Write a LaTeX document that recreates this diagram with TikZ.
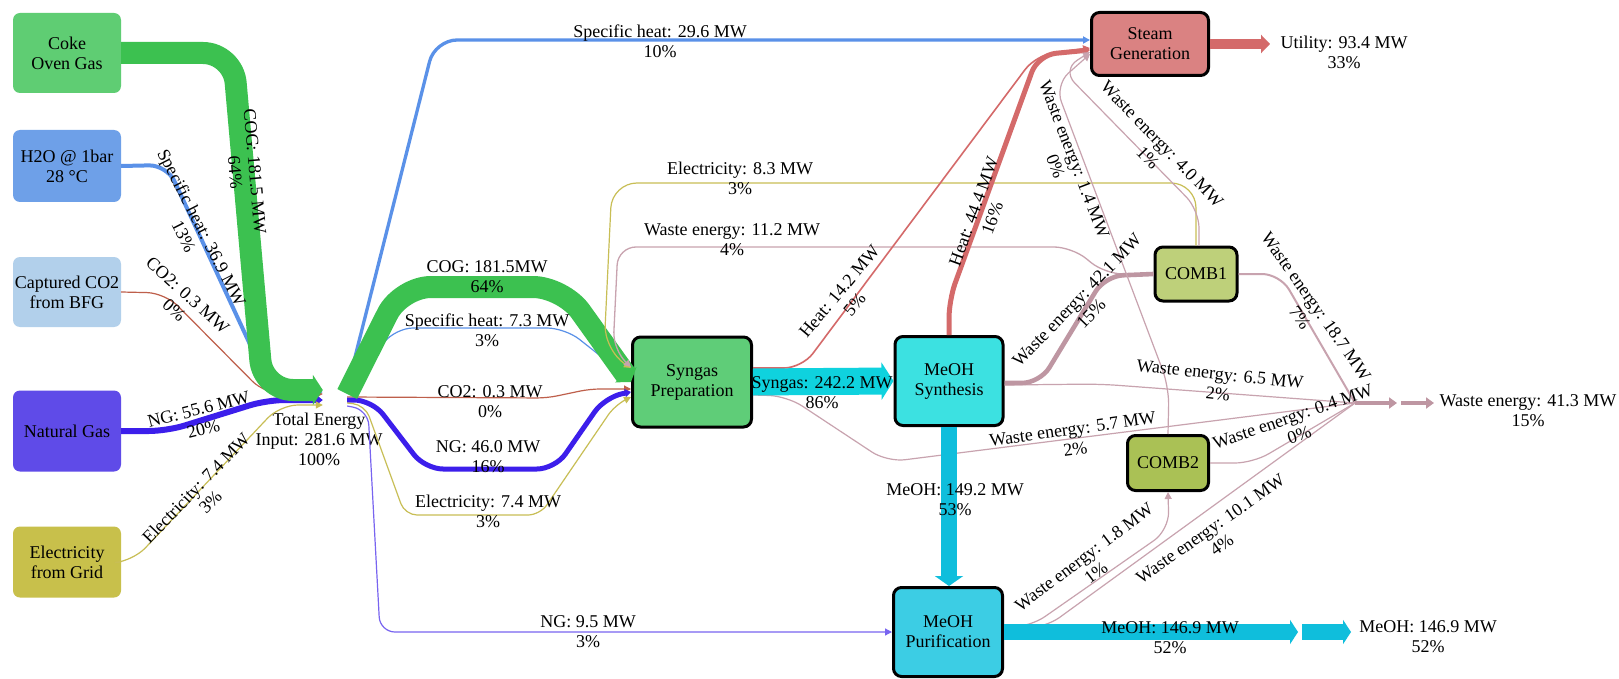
\documentclass[tikz,border=0pt]{standalone}
\usepackage{fontspec}
\setmainfont{Liberation Serif}
\usetikzlibrary{arrows.meta}

\definecolor{cognode}{RGB}{95,205,115}
\definecolor{cogc}{RGB}{60,193,80}
\definecolor{h2onode}{RGB}{110,160,232}
\definecolor{shc}{RGB}{90,145,232}
\definecolor{co2node}{RGB}{178,208,235}
\definecolor{co2c}{RGB}{190,95,75}
\definecolor{ngnode}{RGB}{95,75,232}
\definecolor{ngc}{RGB}{60,30,235}
\definecolor{ngthin}{RGB}{120,100,240}
\definecolor{elnode}{RGB}{200,192,75}
\definecolor{elc}{RGB}{200,190,85}
\definecolor{spnode}{RGB}{95,205,120}
\definecolor{msnode}{RGB}{60,225,225}
\definecolor{syngc}{RGB}{15,210,222}
\definecolor{mpnode}{RGB}{60,205,228}
\definecolor{meohc}{RGB}{15,190,220}
\definecolor{sgnode}{RGB}{218,130,130}
\definecolor{heatc}{RGB}{212,106,106}
\definecolor{c1node}{RGB}{190,208,122}
\definecolor{c2node}{RGB}{170,193,85}
\definecolor{wastec}{RGB}{200,163,175}
\definecolor{wastedk}{RGB}{190,150,162}

\begin{document}
\begin{tikzpicture}[x=1pt,y=-1pt,font=\fontsize{18}{20}\selectfont,
  src/.style={rounded corners=7,minimum width=108,align=center,inner sep=0},
  proc/.style={draw=black,line width=3,rounded corners=8,align=center,inner sep=0},
  lbl/.style={align=center,inner sep=0},
  tip/.style={-{Triangle[length=7pt,width=7pt]}},
  flow/.style={rounded corners=18}]
\path[use as bounding box,fill=white] (0,0) rectangle (1619,679);

\node[src,fill=cognode,minimum height=80] (cog) at (67,53) {Coke\\Oven Gas};
\node[src,fill=h2onode,minimum height=72] (hwater) at (67,166) {H2O @ 1bar\\28 °C};
\node[src,fill=co2node,minimum height=70] (cco2) at (67,292) {Captured CO2\\from BFG};
\node[src,fill=ngnode,minimum height=81] (natgas) at (67,431) {Natural Gas};
\node[src,fill=elnode,minimum height=71] (elgrid) at (67,562) {Electricity\\from Grid};
\node[minimum width=24,minimum height=20,inner sep=0] (tei) at (335,394) {};
\node[lbl] (teilbl) at (319,439) {Total Energy\\Input: 281.6 MW\\100\%};

\node[proc,fill=spnode,minimum width=119,minimum height=90] (synprep) at (692,382) {Syngas\\Preparation};
\node[proc,fill=msnode,minimum width=108,minimum height=89] (meohsyn) at (949,381) {MeOH\\Synthesis};
\node[proc,fill=sgnode,minimum width=117,minimum height=63] (steamgen) at (1150,44) {Steam\\Generation};
\node[proc,fill=c1node,minimum width=82,minimum height=54] (comb1) at (1196,274) {COMB1};
\node[proc,fill=c2node,minimum width=81,minimum height=55] (comb2) at (1168,463) {COMB2};
\node[proc,fill=mpnode,minimum width=109,minimum height=89] (meohpur) at (948,632) {MeOH\\Purification};

\coordinate (wastehub) at (1355,403);
\coordinate (wsink1) at (1397,403);
\coordinate (wsink2) at (1401,403);
\coordinate (wsink3) at (1434,403);
\coordinate (msink1) at (1298,632);
\coordinate (msink2) at (1302,632);
\coordinate (msink3) at (1351,632);
\coordinate (util) at (1270,44);

\draw[flow,line width=4,shc,tip] (hwater.east) -- (167,165) -- (272,392) -- ([yshift=2]tei.west);
\draw[flow,line width=1.2,co2c,tip] (cco2.east) -- (165,293) -- (265,394) -- (tei.west);
\draw[flow,line width=6,ngc,-{Triangle[length=6pt,width=9pt]}] (natgas.east) -- (167,431) -- (267,400) -- ([yshift=-6]tei.west);
\draw[flow,line width=1.2,elc,tip] (elgrid.east) -- (133,561) -- (280,405) -- ([yshift=-11]tei.west);
\draw[line width=22,cogc,rounded corners=30,-{Triangle[length=10pt,width=30pt]}] (cog.east) -- (233,53) -- (263,390) -- ([yshift=4]tei.west);

\draw[line width=3.3,shc,tip,rounded corners=22] ([yshift=6]tei.east) -- (435,40) -- ([yshift=4]steamgen.west);
\draw[flow,line width=1.2,shc,tip] ([yshift=3]tei.east) -- (395,328) -- (565,328) -- ([yshift=2]synprep.west);
\draw[flow,line width=1.2,co2c,tip,rounded corners=10] ([yshift=-3]tei.east) -- (547,398) -- (590,389) -- ([yshift=-7]synprep.west);
\draw[flow,line width=5,ngc,-{Triangle[length=6pt,width=8pt]}] ([yshift=-6]tei.east) -- (372,400) -- (425,469) -- (555,469) -- (605,397) -- ([yshift=-10]synprep.west);
\draw[flow,line width=1.2,elc,tip,rounded corners=12] ([yshift=-9]tei.east) -- (365,405) -- (405,515) -- (540,515) -- (615,405) -- ([yshift=-15]synprep.west);
\draw[flow,line width=1.2,ngthin,tip,rounded corners=15] ([yshift=-12]tei.east) -- (368,410) -- (380,632) -- (meohpur.west);
\draw[line width=22,cogc,rounded corners=30,-{Triangle[length=9pt,width=26pt]}] (tei.east) -- (401,287) -- (563,287) -- (synprep.west);

\draw[flow,line width=1.2,elc,tip,rounded corners=25] (comb1.north) -- (1196,183) -- (612,183) -- (604,350) -- ([yshift=14]synprep.west);
\draw[flow,line width=1.3,wastec,tip] (comb1.west) -- (1105,274) -- (1072,247) -- (618,247) -- (613,350) -- ([yshift=15]synprep.west);
\draw[flow,line width=1.6,heatc,tip] ([yshift=14]synprep.east) -- (802,368) -- (1036,55) -- ([yshift=-4]steamgen.west);
\draw[flow,line width=1.2,wastec] ([yshift=-13]synprep.east) -- (787,396) -- (887,462) -- (wastehub);
\draw[line width=27,syngc,-{Triangle[length=12pt,width=37pt]}] (synprep.east) -- (meohsyn.west);

\draw[flow,line width=1.2,wastec] ([yshift=-4]meohsyn.east) -- (1100,384) -- (wastehub);
\draw[flow,line width=4.6,wastedk] ([yshift=-2]meohsyn.east) -- (1040,383) -- (1105,276) -- (comb1.west);
\draw[flow,line width=5,heatc,-{Triangle[length=6pt,width=9pt]}] (meohsyn.north) -- (949,300) -- (1038,55) -- ([yshift=-6]steamgen.west);
\draw[line width=16,meohc,-{Triangle[length=10pt,width=28pt]}] (meohsyn.south) -- (meohsyn.south |- meohpur.north);

\draw[flow,line width=1.2,wastec,tip] ([xshift=3]comb1.north) -- (1199,210) -- (1062,70) -- ([yshift=-8]steamgen.west);
\draw[flow,line width=1.2,wastec,tip] (comb2.north) -- (1169,387) -- (1055,85) -- ([yshift=-10]steamgen.west);
\draw[flow,line width=2,wastec] (comb1.east) -- (1280,274) -- (wastehub);
\draw[flow,line width=1.2,wastec] (comb2.east) -- (1253,463) -- (wastehub);
\draw[flow,line width=1.2,wastec,tip] ([yshift=5]meohpur.east) -- (1030,627) -- (1169,530) -- (comb2.south);
\draw[flow,line width=1.2,wastec] ([yshift=4]meohpur.east) -- (1045,628) -- (wastehub);

\draw[line width=16,meohc,-{Triangle[length=8pt,width=24pt]}] (meohpur.east) -- (msink1);
\draw[line width=16,meohc,-{Triangle[length=8pt,width=24pt]}] (msink2) -- (msink3);
\draw[line width=4.5,wastedk,-{Triangle[length=8pt,width=11pt]}] (wastehub) -- (wsink1);
\draw[line width=4.5,wastedk,-{Triangle[length=8pt,width=11pt]}] (wsink2) -- (wsink3);
\draw[line width=10,heatc,-{Triangle[length=9pt,width=18pt]}] (steamgen.east) -- (util);

\node[lbl,rotate=-85] (l-cogin) at (245,172) {COG: 181.5 MW\\64\%};
\node[lbl,rotate=-63] (l-shin) at (193,232) {Specific heat: 36.9 MW\\13\%};
\node[lbl,rotate=-42] (l-co2in) at (181,303) {CO2: 0.3 MW\\0\%};
\node[lbl,rotate=14] (l-ngin) at (201,419) {NG: 55.6 MW\\20\%};
\node[lbl,rotate=46] (l-elin) at (203,495) {Electricity: 7.4 MW\\3\%};
\node[lbl] (l-sh29) at (660,41) {Specific heat: 29.6 MW\\10\%};
\node[lbl] (l-cogout) at (487,277) {COG: 181.5MW\\64\%};
\node[lbl] (l-sh7) at (487,330) {Specific heat: 7.3 MW\\3\%};
\node[lbl] (l-co2out) at (490,402) {CO2: 0.3 MW\\0\%};
\node[lbl] (l-ng46) at (488,457) {NG: 46.0 MW\\16\%};
\node[lbl] (l-elout) at (488,511) {Electricity: 7.4 MW\\3\%};
\node[lbl] (l-ng9) at (588,632) {NG: 9.5 MW\\3\%};
\node[lbl] (l-el8) at (740,178) {Electricity: 8.3 MW\\3\%};
\node[lbl] (l-w11) at (732,240) {Waste energy: 11.2 MW\\4\%};
\node[lbl,rotate=50] (l-heat14) at (847,298) {Heat: 14.2 MW\\5\%};
\node[lbl] (l-syngas) at (822,393) {Syngas: 242.2 MW\\86\%};
\node[lbl,rotate=70] (l-heat44) at (983,215) {Heat: 44.4 MW\\16\%};
\node[lbl,rotate=-69] (l-w1) at (1065,163) {Waste energy: 1.4 MW\\0\%};
\node[lbl,rotate=-46] (l-w4) at (1155,151) {Waste energy: 4.0 MW\\1\%};
\node[lbl] (l-util) at (1344,52) {Utility: 93.4 MW\\33\%};
\node[lbl,rotate=46] (l-w42) at (1084,307) {Waste energy: 42.1 MW\\15\%};
\node[lbl,rotate=-55] (l-w18) at (1308,312) {Waste energy: 18.7 MW\\7\%};
\node[lbl,rotate=-6] (l-w6) at (1219,384) {Waste energy: 6.5 MW\\2\%};
\node[lbl,rotate=19] (l-w0) at (1296,426) {Waste energy: 0.4 MW\\0\%};
\node[lbl,rotate=8] (l-w5) at (1074,439) {Waste energy: 5.7 MW\\2\%};
\node[lbl] (l-wout) at (1528,411) {Waste energy: 41.3 MW\\15\%};
\node[lbl] (l-meoh149) at (955,500) {MeOH: 149.2 MW\\53\%};
\node[lbl,rotate=37] (l-w18b) at (1090,565) {Waste energy: 1.8 MW\\1\%};
\node[lbl,rotate=35] (l-w10) at (1216,537) {Waste energy: 10.1 MW\\4\%};
\node[lbl] (l-meohmid) at (1170,638) {MeOH: 146.9 MW\\52\%};
\node[lbl] (l-meohout) at (1428,637) {MeOH: 146.9 MW\\52\%};
\end{tikzpicture}
\end{document}
